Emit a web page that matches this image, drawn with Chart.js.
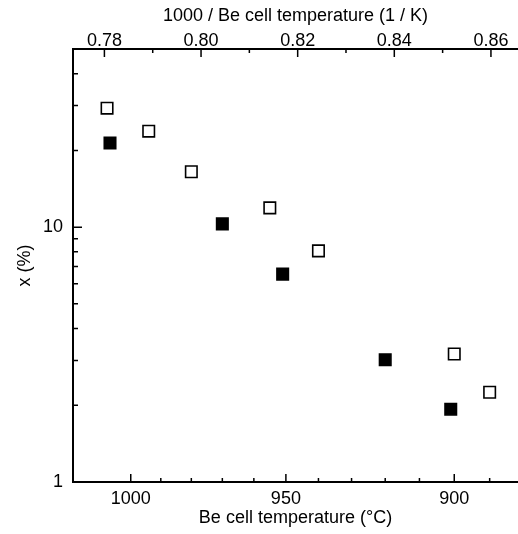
<!DOCTYPE html>
<html>
<head>
<meta charset="utf-8">
<script src="https://cdn.jsdelivr.net/npm/chart.js@4/dist/chart.umd.min.js"></script>
<style>
  body { margin: 0; background: #fff; overflow: hidden; }
  canvas { display: block; }
</style>
</head>
<body>
<canvas id="chart" width="518" height="534"></canvas>
<script>
// data (Be cell temperature in °C, x in %)
const tempOpen = [1008, 994, 980, 955, 940, 900, 890];
const xOpen = [29.3, 23.8, 16.5, 11.9, 8.07, 3.18, 2.25];
const tempFilled = [1007, 970, 951, 920, 901];
const xFilled = [21.4, 10.3, 6.54, 3.02, 1.93];

// ticks
const tempTicks = [1000, 990, 980, 970, 960, 950, 940, 930, 920, 910, 900, 890];
const tempLabels = [1000, 950, 900];
const invTicks = [0.78, 0.79, 0.80, 0.81, 0.82, 0.83, 0.84, 0.85, 0.86];
const invLabels = [0.78, 0.80, 0.82, 0.84, 0.86];
const yTicks = [1, 2, 3, 4, 5, 6, 7, 8, 9, 10, 20, 30, 40];
const yLabels = [1, 10];

const xMin = 0.7735;
const xMax = 0.8656;

function toInv(t) {
  return 1000 / (t + 273.15);
}
function makePoints(temps, vals) {
  return temps.map((t, i) => ({ x: toInv(t), y: vals[i] }));
}

const FONT = "Arial, 'Liberation Sans', sans-serif";
const font18 = { family: FONT, size: 18 };

// ticks pointing into the plot, like the original figure
const innerTicks = {
  id: "innerTicks",
  afterDraw(chart) {
    const ctx = chart.ctx;
    const area = chart.chartArea;
    const xs = chart.scales.x;
    const ys = chart.scales.y;
    ctx.save();
    ctx.strokeStyle = "#000";
    ctx.lineWidth = 1.5;
    ctx.beginPath();
    tempTicks.forEach((t) => {
      const px = xs.getPixelForValue(toInv(t));
      const len = tempLabels.includes(t) ? 8 : 4;
      ctx.moveTo(px, area.bottom);
      ctx.lineTo(px, area.bottom - len);
    });
    invTicks.forEach((v) => {
      const px = xs.getPixelForValue(v);
      const len = invLabels.includes(v) ? 8 : 4;
      ctx.moveTo(px, area.top);
      ctx.lineTo(px, area.top + len);
    });
    yTicks.forEach((v) => {
      const py = ys.getPixelForValue(v);
      const len = yLabels.includes(v) ? 9 : 5;
      ctx.moveTo(area.left, py);
      ctx.lineTo(area.left + len, py);
    });
    ctx.stroke();
    ctx.restore();
  },
};

function noEdgePadding(s) {
  s.paddingLeft = 0;
  s.paddingRight = 0;
}

new Chart(document.getElementById("chart"), {
  type: "scatter",
  data: {
    datasets: [
      {
        label: "open",
        data: makePoints(tempOpen, xOpen),
        pointStyle: "rect",
        pointRadius: 8.1,
        borderWidth: 1.6,
        borderColor: "#000",
        backgroundColor: "#fff",
      },
      {
        label: "filled",
        data: makePoints(tempFilled, xFilled),
        pointStyle: "rect",
        pointRadius: 8.1,
        borderWidth: 1.6,
        borderColor: "#000",
        backgroundColor: "#000",
      },
    ],
  },
  options: {
    responsive: false,
    animation: false,
    layout: { padding: 0, autoPadding: false },
    plugins: {
      legend: { display: false },
      tooltip: { enabled: false },
    },
    scales: {
      x: {
        type: "linear",
        position: "bottom",
        min: xMin,
        max: xMax,
        grid: { display: false, drawTicks: false },
        border: { display: true, color: "#000", width: 2 },
        afterBuildTicks: (s) => {
          s.ticks = tempLabels.map((t) => ({ value: toInv(t) }));
        },
        afterFit: (s) => {
          s.height = 52;
          noEdgePadding(s);
        },
        ticks: {
          color: "#000",
          font: font18,
          padding: 6,
          autoSkip: false,
          maxRotation: 0,
          callback: (v) => String(Math.round(1000 / v - 273.15)),
        },
        title: {
          display: true,
          text: "Be cell temperature (°C)",
          color: "#000",
          font: font18,
          padding: { top: 0, bottom: 5 },
        },
      },
      xTop: {
        type: "linear",
        position: "top",
        min: xMin,
        max: xMax,
        grid: { display: false, drawTicks: false },
        border: { display: true, color: "#000", width: 2 },
        afterBuildTicks: (s) => {
          s.ticks = invLabels.map((v) => ({ value: v }));
        },
        afterFit: (s) => {
          s.height = 49;
          noEdgePadding(s);
        },
        ticks: {
          color: "#000",
          font: font18,
          padding: -3,
          autoSkip: false,
          maxRotation: 0,
          callback: (v) => v.toFixed(2),
        },
        title: {
          display: true,
          text: "1000 / Be cell temperature (1 / K)",
          color: "#000",
          font: font18,
          padding: { top: 5, bottom: 0 },
        },
      },
      y: {
        type: "logarithmic",
        position: "left",
        min: 1,
        max: 50,
        grid: { display: false, drawTicks: false },
        border: { display: true, color: "#000", width: 2 },
        afterBuildTicks: (s) => {
          s.ticks = yLabels.map((v) => ({ value: v }));
        },
        afterFit: (s) => {
          s.width = 73;
        },
        ticks: {
          color: "#000",
          font: font18,
          padding: 10,
          autoSkip: false,
          callback: (v) => String(v),
        },
        title: {
          display: true,
          text: "x (%)",
          color: "#000",
          font: font18,
          padding: { top: 14, bottom: 0 },
        },
      },
    },
  },
  plugins: [innerTicks],
});
</script>
</body>
</html>
